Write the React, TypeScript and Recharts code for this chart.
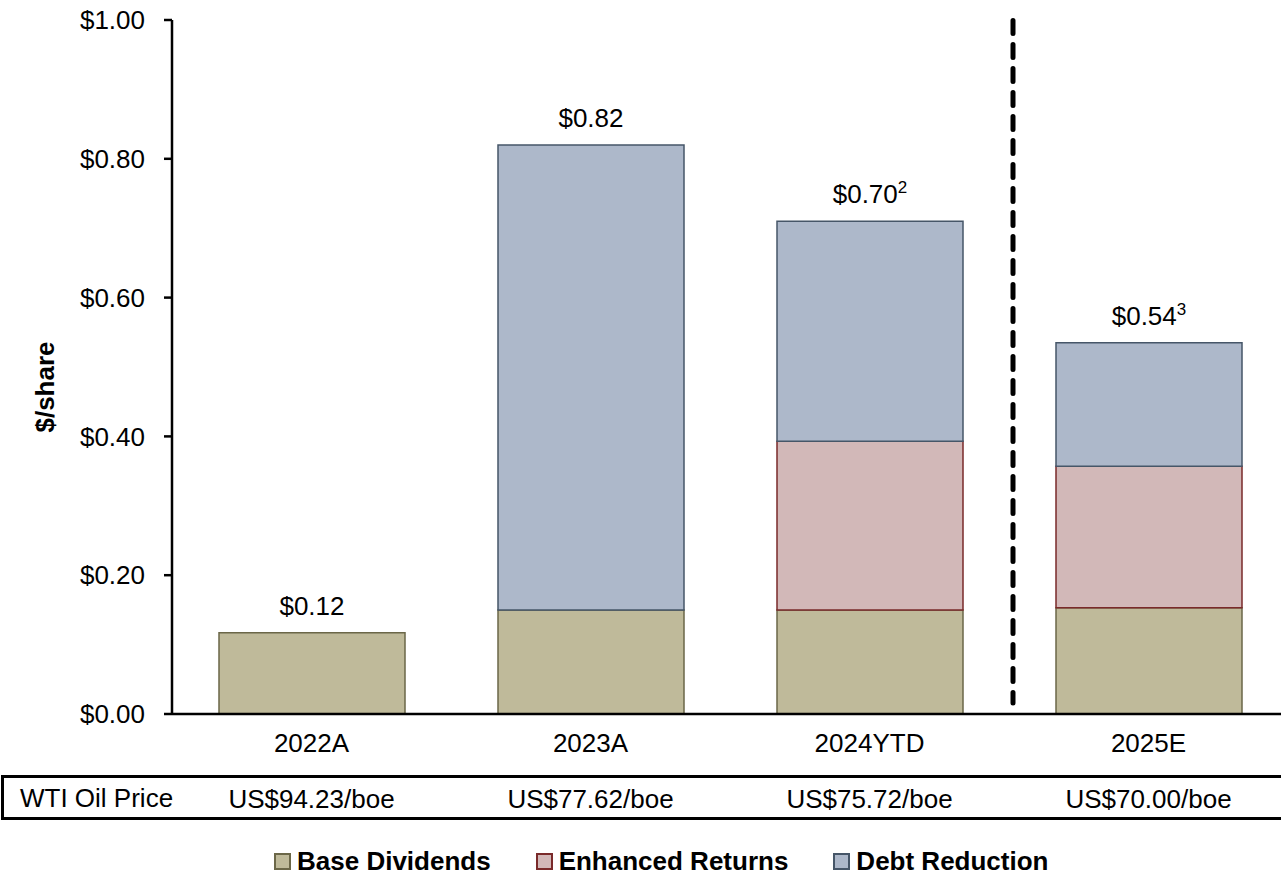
import { BarChart, Bar, XAxis, YAxis, ReferenceLine, LabelList } from 'recharts';

const categories = ['2022A', '2023A', '2024YTD', '2025E'];
const baseDividends = [0.117, 0.15, 0.15, 0.153];
const enhancedReturns = [0, 0, 0.243, 0.204];
const debtReduction = [0, 0.67, 0.317, 0.178];
const totalLabels = ['$0.12', '$0.82', '$0.70', '$0.54'];
const footnotes = ['', '', '2', '3'];
const wtiPrices = ['US$94.23/boe', 'US$77.62/boe', 'US$75.72/boe', 'US$70.00/boe'];
const yTicks = [0, 0.2, 0.4, 0.6, 0.8, 1.0];

const series = [
  { key: 'base', name: 'Base Dividends', fill: '#bfba9a', stroke: '#6b6748' },
  { key: 'enhanced', name: 'Enhanced Returns', fill: '#d2b8b8', stroke: '#7a2a2a' },
  { key: 'debt', name: 'Debt Reduction', fill: '#adb8ca', stroke: '#465668' },
];

const data = categories.map((c, i) => ({
  cat: c,
  base: baseDividends[i],
  enhanced: enhancedReturns[i],
  debt: debtReduction[i],
}));

const FONT = '"Liberation Sans", Arial, sans-serif';

const CategoryTick = ({ x, payload }: any) => {
  const i = categories.indexOf(payload.value);
  return (
    <g>
      <text x={x} y={752} textAnchor="middle" fontSize={26} fill="#000" fontFamily={FONT}>
        {categories[i]}
      </text>
      <text x={x} y={808} textAnchor="middle" fontSize={26} fill="#000" fontFamily={FONT}>
        {wtiPrices[i]}
      </text>
    </g>
  );
};

// only the topmost non-empty segment of each stack carries the total label
const makeTopLabel = (seriesIdx: number) => (props: any) => {
  const { x, y, width, value } = props;
  const index = categories.indexOf(value);
  if (index < 0) return null;
  const vals = [baseDividends[index], enhancedReturns[index], debtReduction[index]];
  let top = -1;
  vals.forEach((v, k) => { if (v > 0) top = k; });
  if (top !== seriesIdx) return null;
  return (
    <text x={x + width / 2} y={y - 18} textAnchor="middle" fontSize={26} fill="#000" fontFamily={FONT}>
      {totalLabels[index]}
      {footnotes[index] ? <tspan fontSize={17} dy={-10}>{footnotes[index]}</tspan> : null}
    </text>
  );
};

const DashedDivider = (p: any) => {
  const top = Math.min(p.y1, p.y2);
  const bottom = Math.max(p.y1, p.y2);
  return (
    <line
      x1={p.x1 + 4}
      y1={top + 0.5}
      x2={p.x2 + 4}
      y2={bottom - 11}
      stroke="#000"
      strokeWidth={5}
      strokeDasharray="13 11"
      strokeLinecap="round"
    />
  );
};

export default function App() {
  return (
    <div style={{ position: 'absolute', left: 0, top: 0, width: 1281, height: 875, overflow: 'hidden', background: '#fff', fontFamily: FONT }}>
      <BarChart
        width={1300}
        height={875}
        data={data}
        margin={{ top: 20, right: 12, left: 0, bottom: 0 }}
        barSize={186}
      >
        <XAxis
          dataKey="cat"
          height={161}
          tickLine={false}
          tickSize={0}
          axisLine={{ stroke: '#000', strokeWidth: 2.5 }}
          tick={<CategoryTick />}
          interval={0}
        />
        <YAxis
          width={172}
          domain={[0, 1]}
          ticks={yTicks}
          tickFormatter={(v: number) => `$${v.toFixed(2)}`}
          tickSize={8}
          tickMargin={19}
          tickLine={{ stroke: '#000', strokeWidth: 2.5 }}
          axisLine={{ stroke: '#000', strokeWidth: 2.5 }}
          tick={{ fontSize: 26, fill: '#000', fontFamily: FONT }}
          interval={0}
        />
        {series.map((s, k) => (
          <Bar
            key={s.key}
            dataKey={s.key}
            stackId="a"
            fill={s.fill}
            stroke={s.stroke}
            strokeWidth={1.5}
            isAnimationActive={false}
          >
            <LabelList dataKey="cat" content={makeTopLabel(k)} />
          </Bar>
        ))}
        <ReferenceLine
          x="2025E"
          position="start"
          stroke="#000"
          strokeWidth={5}
          strokeDasharray="13 11"
          shape={DashedDivider}
        />
      </BarChart>
      <div
        style={{
          position: 'absolute', left: 1, top: 775, width: 1290, height: 45,
          border: '3px solid #000', boxSizing: 'border-box', pointerEvents: 'none',
        }}
      />
      <div style={{ position: 'absolute', left: 20, top: 782, fontSize: 26, color: '#000', lineHeight: '32px' }}>
        WTI Oil Price
      </div>
      <div
        style={{
          position: 'absolute', left: 274, top: 845, display: 'flex', alignItems: 'center',
          gap: 45, fontWeight: 'bold', fontSize: 26, color: '#000',
        }}
      >
        {series.map((s) => (
          <div key={s.key} style={{ display: 'flex', alignItems: 'center', gap: 6 }}>
            <div style={{ width: 17, height: 17, background: s.fill, border: `2px solid ${s.stroke}`, boxSizing: 'border-box' }} />
            <span style={{ lineHeight: '32px' }}>{s.name}</span>
          </div>
        ))}
      </div>
      <div
        style={{
          position: 'absolute', left: 45, top: 387, transform: 'translate(-50%, -50%) rotate(-90deg)',
          fontWeight: 'bold', fontSize: 26, color: '#000', whiteSpace: 'nowrap',
        }}
      >
        $/share
      </div>
    </div>
  );
}
